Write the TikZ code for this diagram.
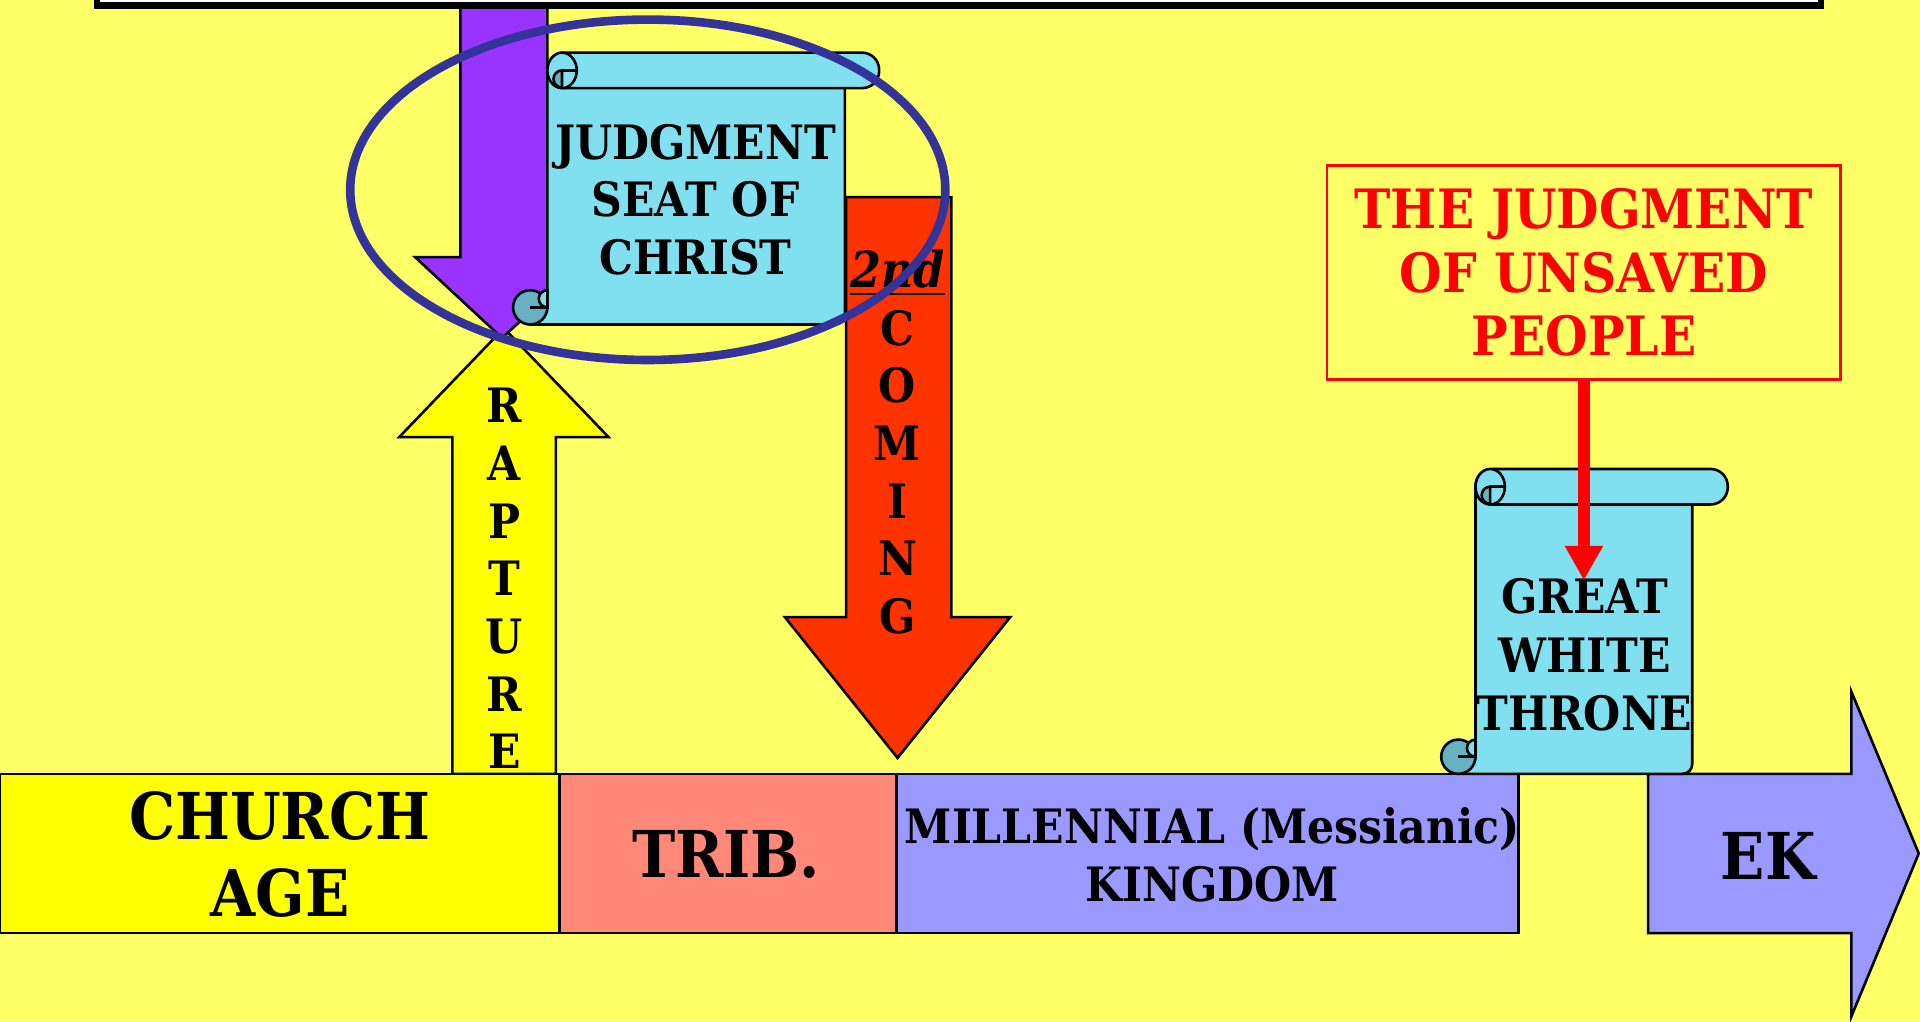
\documentclass[tikz,border=0pt]{standalone}
\usepackage{fontspec}
\setmainfont{DejaVu Serif Condensed}
\usetikzlibrary{arrows.meta,positioning}
\definecolor{paper}{HTML}{FFFF66}
\definecolor{churchyellow}{HTML}{FFFF00}
\definecolor{tribsalmon}{HTML}{FF8878}
\definecolor{kingdomblue}{HTML}{9999FF}
\definecolor{rapturepurple}{HTML}{9933FF}
\definecolor{comingred}{HTML}{FF3300}
\definecolor{scrollcyan}{HTML}{80E0F0}
\definecolor{scrollteal}{HTML}{66B2C2}
\definecolor{ringblue}{HTML}{333399}
\tikzset{
  outline/.style={draw=black,line width=0.6pt},
  scrollface/.style={outline,fill=scrollcyan},
  curlface/.style={outline,fill=scrollteal},
  letters/.style={align=center,font=\fontsize{11}{13.4}\selectfont\bfseries},
  bigtext/.style={align=center,font=\fontsize{15}{18}\selectfont\bfseries},
}
% scroll: left, right, top, bottom, end of roll
\newcommand{\Scroll}[5]{%
  \draw[scrollface] (#1,{#3+14}) -- (#1,{#4-14}) -- ({#1-14},{#4-14}) -- ({#1-14},#4)
    -- ({#2-8},#4) arc(90:0:8) -- (#2,{#3+14}) -- cycle;
  \draw[curlface] ({#1-14},{#4-14}) circle (14);
  \draw[scrollface] (#1,{#4-28}) arc(270:90:7) -- cycle;
  \draw[outline] ({#1-14},{#4-14}) -- (#1,{#4-14});
  \draw[scrollface,rounded corners=0.14cm] (#1,#3) rectangle (#5,{#3+29});
  \draw[scrollface] ({#1+12},{#3+14.5}) ellipse (12 and 14.5);
  \draw[curlface] ({#1+12},{#3+14.5}) arc(270:90:7) -- cycle;
  \draw[outline] ({#1+12},{#3+14.5}) -- ({#1+24},{#3+14.5});
}

\begin{document}
\begin{tikzpicture}[x=0.01cm,y=-0.01cm]
\useasboundingbox (0,0) rectangle (1568,834);
\fill[paper] (0,0) rectangle (1568,834);
% rapture and the arrow coming down
\draw[outline,fill=churchyellow] (369.5,632) -- (369.5,357) -- (326,357) -- (411.5,268)
  -- (497,357) -- (454,357) -- (454,632) -- cycle;
\draw[outline,fill=rapturepurple] (376,-5) -- (376,210) -- (339,210) -- (410,276)
  -- (482,210) -- (447,210) -- (447,-5) -- cycle;
\draw[line width=1.4pt,fill=white] (79.5,-20) rectangle (1487.5,4.5);
% second coming
\draw[outline,fill=comingred] (691,161) -- (691,504) -- (641,504) -- (733,619)
  -- (825,504) -- (777,504) -- (777,161) -- cycle;
%
\draw[outline,fill=churchyellow] (0,632) rectangle (457,762);
\draw[outline,fill=tribsalmon] (457,632) rectangle (732,762);
\draw[outline,fill=kingdomblue] (732,632) rectangle (1240,762);
\draw[outline,fill=kingdomblue] (1346,632) -- (1512,632) -- (1512,565) -- (1567,697)
  -- (1512,830) -- (1512,762) -- (1346,762) -- cycle;
%
\Scroll{447}{690}{43}{265}{718}
\Scroll{1205}{1382}{383}{632}{1411}
%
\node[bigtext] (church) at (228.5,698) {CHURCH\\AGE};
\node[bigtext] (trib) at (593,698) {TRIB.};
\node[letters] (kingdom) at (990,698) {MILLENNIAL (Messianic)\\KINGDOM};
\node[bigtext] (ek) at (1444,699) {EK};
\node[letters] (rapture) at (412,472.5) {R\\A\\P\\T\\U\\R\\E};
\node[letters] (coming) at (733,385.5) {C\\O\\M\\I\\N\\G};
\node[font=\fontsize{11.5}{12}\selectfont\bfseries\itshape] (second) at (733,223) {\underline{2nd}};
\node[letters] (seat) at (568,163) {JUDGMENT\\SEAT OF\\CHRIST};
\node[letters,font=\fontsize{11}{13.6}\selectfont\bfseries] (throne) at (1294,535) {GREAT\\WHITE\\THRONE};
%
\node[draw=red,line width=0.6pt,text=red,minimum width=4.19cm,minimum height=1.75cm,
  align=center,font=\fontsize{12.6}{14.8}\selectfont\bfseries] (unsaved) at (1293.5,222.5)
  {THE JUDGMENT\\OF UNSAVED\\PEOPLE};
\coordinate (gwt) at (1293.5,474);
\path[draw=red,line width=2.8pt,-{Triangle[width=8.3pt,length=8pt]}] (unsaved) -- (gwt);
%
\draw[ringblue,line width=2pt] (529,155) ellipse (243 and 139);
\end{tikzpicture}
\end{document}
